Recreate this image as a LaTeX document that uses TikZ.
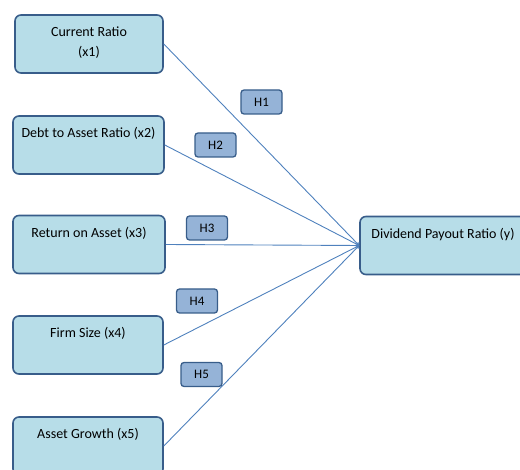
\documentclass[tikz,border=0pt]{standalone}
\usepackage{fontspec}
\setmainfont{Carlito}
\definecolor{boxfill}{RGB}{183,221,232}
\definecolor{boxline}{RGB}{56,93,138}
\definecolor{hypfill}{RGB}{149,179,215}
\definecolor{arrline}{RGB}{79,129,189}
\tikzstyle{varbox}=[rectangle,rounded corners=6pt,draw=boxline,line width=1.6pt,fill=boxfill,minimum width=150pt,minimum height=58pt,inner sep=0pt]
\tikzstyle{hyp}=[rectangle,rounded corners=3pt,draw=boxline,line width=1.3pt,fill=hypfill,minimum width=41pt,minimum height=24pt,inner sep=0pt,font=\fontsize{13}{15}\selectfont]
\tikzstyle{boxtext}=[anchor=north,align=center,inner sep=0pt,yshift=-12pt,font=\fontsize{14}{20}\selectfont]
\tikzstyle{path}=[draw=arrline,line width=0.9pt,->]

\begin{document}
\begin{tikzpicture}[x=1pt,y=-1pt]
    \useasboundingbox (0,0) rectangle (520,470);
    \node[varbox,minimum width=148pt,label={[boxtext]north:{Current Ratio\\(x1)}}] (x1) at (89,44) {};
    \node[varbox,minimum width=151pt,label={[boxtext]north:Debt to Asset Ratio (x2)}] (x2) at (88.5,145) {};
    \node[varbox,minimum width=152pt,label={[boxtext]north:Return on Asset (x3)}] (x3) at (89,244.5) {};
    \node[varbox,label={[boxtext]north:Firm Size (x4)}] (x4) at (88,345) {};
    \node[varbox,label={[boxtext]north:Asset Growth (x5)}] (x5) at (88,446) {};
    \node[varbox,minimum width=166pt,label={[boxtext]north:Dividend\ Payout Ratio (y)}] (y) at (443,245.5) {};

    \draw[path] (x1.east) -- (y.west);
    \draw[path] (x2.east) -- (y.west);
    \draw[path] (x3.east) -- (y.west);
    \draw[path] (x4.east) -- (y.west);
    \draw[path] (x5.east) -- (y.west);

    \node[hyp] (h1) at (261.5,102) {H1};
    \node[hyp] (h2) at (215.5,145) {H2};
    \node[hyp] (h3) at (207,228) {H3};
    \node[hyp] (h4) at (197,301) {H4};
    \node[hyp] (h5) at (201.5,374.5) {H5};
\end{tikzpicture}
\end{document}
